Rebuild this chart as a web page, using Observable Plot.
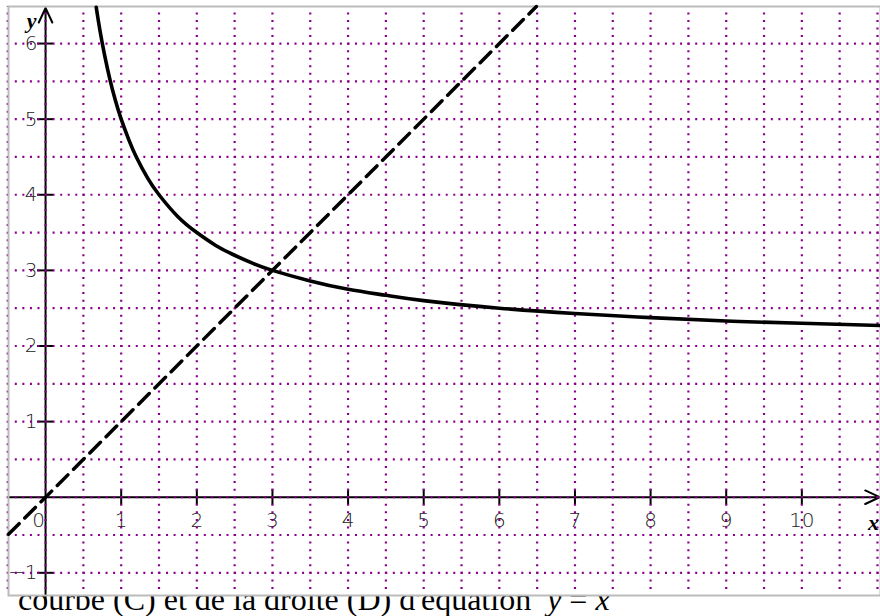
<!DOCTYPE html>
<html>
<head>
<meta charset="utf-8">
<script src="https://cdn.jsdelivr.net/npm/d3@7"></script>
<script src="https://cdn.jsdelivr.net/npm/@observablehq/plot@0.6"></script>
<style>
  html, body { margin: 0; padding: 0; background: white; }
  #wrap { position: relative; width: 880px; height: 616px; overflow: hidden; }
  #chart { position: absolute; left: 0; top: 0; z-index: 2; }
  #caption { position: absolute; left: 18px; top: 583px; z-index: 1;
    font-family: "Liberation Serif", "Times New Roman", serif; font-size: 32px; line-height: 32px;
    color: #000; white-space: pre; }
</style>
</head>
<body>
<div id="wrap">
  <div id="chart"></div>
  <div id="caption">courbe (C) et de la droite (D) d'équation  <i>y</i> = <i>x</i></div>
</div>
<script>
// Curve (C): points
const curveX = [0.67, 0.72, 0.78, 0.85, 0.92, 1.0, 1.1, 1.2, 1.35, 1.5, 1.75, 2.0, 2.25, 2.5, 2.75, 3.0, 3.5, 4.0, 4.5, 5.0, 6.0, 7.0, 8.0, 9.0, 10.0, 11.04];
const curveY = [6.48, 6.17, 5.85, 5.53, 5.26, 5.0, 4.73, 4.5, 4.22, 4.0, 3.71, 3.5, 3.33, 3.2, 3.09, 3.0, 2.86, 2.75, 2.67, 2.6, 2.5, 2.43, 2.375, 2.33, 2.3, 2.27];
// Line (D): y = x, endpoints
const lineX = [-0.49, 6.49];
const lineY = [-0.49, 6.49];
// Tick labels
const xTicks = [1, 2, 3, 4, 5, 6, 7, 8, 9, 10];
const yTicks = [-1, 1, 2, 3, 4, 5, 6];
// Grid positions (every 0.5)
const xGrid = [-0.5, 0, 0.5, 1, 1.5, 2, 2.5, 3, 3.5, 4, 4.5, 5, 5.5, 6, 6.5, 7, 7.5, 8, 8.5, 9, 9.5, 10, 10.5, 11];
const yGrid = [-1, -0.5, 0, 0.5, 1, 1.5, 2, 2.5, 3, 3.5, 4, 4.5, 5, 5.5, 6];

const xMin = -0.49, xMax = 11.04, yMin = -1.30, yMax = 6.49;
const tickHalf = 0.105; // half tick length (about 8px)

const curve = curveX.map((x, i) => ({x, y: curveY[i]}));
const line = lineX.map((x, i) => ({x, y: lineY[i]}));

const labelFont = {fontFamily: "DejaVu Sans, sans-serif", fontWeight: 200, fontSize: 20, fill: "#222"};
const gridStyle = {stroke: "#8b008b", strokeWidth: 2.2, strokeDasharray: "2 5.56"};

const chart = Plot.plot({
  width: 880,
  height: 596,
  marginLeft: 8,
  marginRight: 0,
  marginTop: 6,
  marginBottom: 1,
  x: {type: "linear", domain: [xMin, xMax], axis: null},
  y: {type: "linear", domain: [yMin, yMax], axis: null},
  style: {background: "white", overflow: "visible"},
  marks: [
    // tick labels
    Plot.text(xTicks, {x: d => d, y: 0, text: d => String(d), dy: 23, ...labelFont}),
    Plot.text([0], {x: 0, y: 0, text: ["0"], dy: 23, dx: -7, ...labelFont}),
    Plot.text(yTicks, {x: 0, y: d => d, text: d => d < 0 ? "\u2212" + Math.abs(d) : String(d), dx: -8, textAnchor: "end", ...labelFont}),
    // axes with arrows
    Plot.arrow([0], {x1: xMin, y1: 0, x2: xMax - 0.01, y2: 0, stroke: "black", strokeWidth: 2, headLength: 12, headAngle: 50, bend: 0}),
    Plot.arrow([0], {x1: 0, y1: -1.40, x2: 0, y2: yMax - 0.02, stroke: "black", strokeWidth: 2, headLength: 12, headAngle: 50, bend: 0}),
    // ticks
    Plot.ruleX(xTicks, {x: d => d, y1: -tickHalf, y2: tickHalf, stroke: "black", strokeWidth: 2}),
    Plot.ruleY(yTicks, {y: d => d, x1: -tickHalf, x2: tickHalf, stroke: "black", strokeWidth: 2}),
    // dotted purple grid
    Plot.ruleX(xGrid, {x: d => d, y1: yMin + 0.08, y2: yMax, ...gridStyle}),
    Plot.ruleY(yGrid, {y: d => d, x1: -0.4, x2: xMax, ...gridStyle}),
    Plot.frame({stroke: "#bbb", strokeWidth: 2}),
    // axis names
    Plot.text(["y"], {x: 0, y: yMax, text: d => d, dx: -14, dy: 14, fontFamily: "Liberation Serif, serif", fontStyle: "italic", fontWeight: "bold", fontSize: 22, fill: "black"}),
    Plot.text(["x"], {x: xMax, y: 0, text: d => d, dx: -7, dy: 26, fontFamily: "Liberation Serif, serif", fontStyle: "italic", fontWeight: "bold", fontSize: 22, fill: "black"}),
    // line (D)
    Plot.line(line, {x: "x", y: "y", stroke: "black", strokeWidth: 3.5, strokeDasharray: "15 8"}),
    // curve (C)
    Plot.line(curve, {x: "x", y: "y", stroke: "black", strokeWidth: 3.6, curve: "natural"})
  ]
});

document.getElementById("chart").append(chart);
</script>
</body>
</html>
